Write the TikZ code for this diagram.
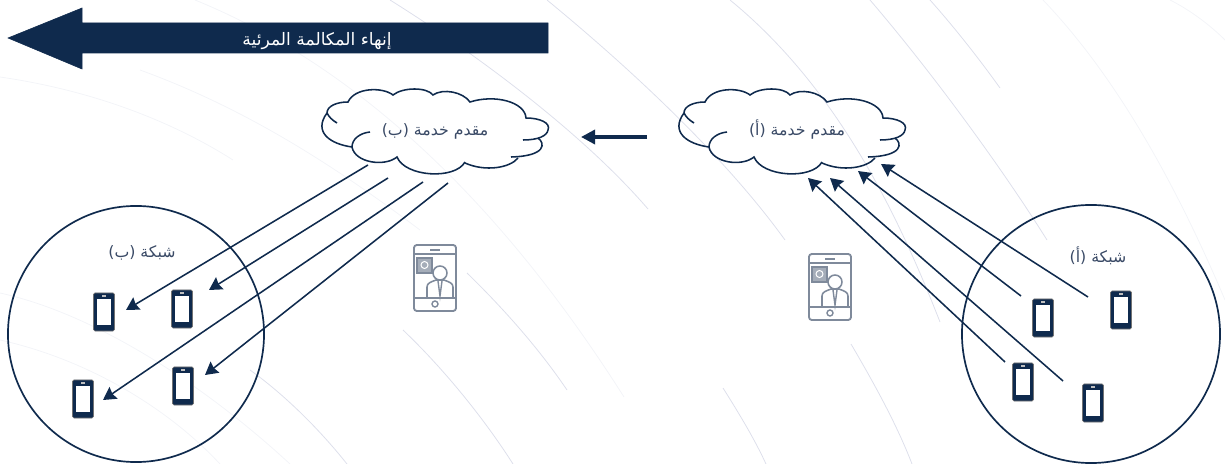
\documentclass[tikz,border=0pt]{standalone}
\usepackage{fontspec}
\usetikzlibrary{arrows.meta}
\newfontfamily\arabicfont[Script=Arabic]{DejaVu Sans}
\TeXXeTstate=1
\definecolor{navy}{HTML}{0F2A4D}
\definecolor{slate}{HTML}{3A4A66}
\definecolor{icongray}{HTML}{7F8A9B}
\definecolor{arcblue}{HTML}{DDDFEB}
\definecolor{arcpale}{HTML}{F3F4F8}
\tikzset{
	phonebody/.style={draw=black!55,fill=navy,rounded corners=1pt,minimum width=.525cm,minimum height=.95cm,inner sep=0pt},
	phonescreen/.style={fill=white,minimum width=.37cm,minimum height=.67cm,inner sep=0pt},
	phonespeaker/.style={fill=black!25,minimum width=.11cm,minimum height=.04cm,inner sep=0pt},
	conn/.style={navy,line width=1.1pt,-{Stealth[length=9pt,width=10pt,inset=1pt]}},
	lbl/.style={text=slate,font=\arabicfont\fontsize{11.2}{13}\selectfont,inner sep=0pt},
	arc/.style={arcblue,line width=.55pt},
	palearc/.style={arcpale,line width=.55pt},
	cloudpic/.pic={
		\draw[navy,line width=1.1pt] (-98,-7) .. controls (-103,-10) and (-106,-13) .. (-108,-17)
			.. controls (-108,-24) and (-98,-28) .. (-87,-28)
			.. controls (-80,-43) and (-52,-43) .. (-42,-35) .. controls (-32,-43) and (-8,-43) .. (-2,-35)
			.. controls (8,-42) and (28,-38) .. (35,-28) .. controls (60,-36) and (90,-28) .. (91,-12)
			.. controls (105,-12) and (116,-7) .. (113,0) .. controls (112,6) and (103,10) .. (88,10);
		\draw[navy,line width=1.1pt] (103,8) .. controls (110,13) and (112,26) .. (76,27);
		\draw[navy,line width=1.1pt] (83,28) .. controls (75,38) and (50,42) .. (30,33);
		\draw[navy,line width=1.1pt] (30,32) .. controls (20,50) and (-30,47) .. (-38,27)
			.. controls (-50,37) and (-80,33) .. (-83,17)
			.. controls (-105,14) and (-122,2) .. (-108,-17);
		\draw[navy,line width=1.1pt] (-83,17) .. controls (-83,9) and (-75,3) .. (-65,2);
	},
	videoicon/.pic={
		\draw[icongray,line width=1.3pt,rounded corners=2pt] (-21,-33) rectangle (21,33);
		\draw[icongray,line width=1pt] (-21,-24) -- (21,-24) (-21,20) -- (21,20);
		\draw[icongray,line width=1pt] (-5,-28) -- (5,-28);
		\draw[icongray,line width=1pt] (0,26) circle (3);
		\draw[icongray,line width=1pt,fill=icongray!70] (-18,-20) rectangle (-3,-5);
		\draw[white,line width=.7pt] (-10.5,-13) circle (3.5);
		\draw[icongray,line width=1.1pt,fill=white] (5,-5) circle (7);
		\draw[icongray,line width=1.1pt] (-8,20) -- (-8,9) .. controls (-8,5) and (-4,4) .. (1,2) -- (9,2) .. controls (14,4) and (18,5) .. (18,9) -- (18,20);
		\draw[icongray,line width=1pt] (3,3) -- (5,18) -- (7,3);
	}
}
\begin{document}
\begin{tikzpicture}[x=.025cm,y=-.025cm]
	\useasboundingbox (0,0) rectangle (1225,464);
	\draw[arc] (390,0) .. controls (470,50) and (580,130) .. (648,209);
	\draw[arc] (547,0) .. controls (620,60) and (720,150) .. (785,240);
	\draw[arc] (467,273) .. controls (505,310) and (540,350) .. (567,390);
	\draw[arc] (403,330) .. controls (445,370) and (485,420) .. (513,464);
	\draw[arc] (250,370) .. controls (285,395) and (320,430) .. (347,464);
	\draw[arc] (723,388) .. controls (740,415) and (755,440) .. (766,464);
	\draw[arc] (851,344) .. controls (875,385) and (897,425) .. (912,464);
	\draw[arc] (730,0) .. controls (840,90) and (900,220) .. (940,322);
	\draw[arc] (870,0) .. controls (930,70) and (1000,165) .. (1047,240);
	\draw[arc] (930,0) .. controls (955,28) and (980,60) .. (1000,88);
	\draw[palearc] (1043,0) .. controls (1110,70) and (1170,170) .. (1225,300);
	\draw[palearc] (1170,0) .. controls (1190,10) and (1210,25) .. (1225,40);
	\draw[palearc] (195,0) .. controls (330,55) and (480,170) .. (624,397);
	\draw[palearc] (0,293) .. controls (100,315) and (210,390) .. (290,464);
	\draw[palearc] (0,340) .. controls (90,360) and (170,410) .. (220,464);
	\draw[palearc] (140,70) .. controls (250,110) and (340,170) .. (420,230);
	\draw[palearc] (0,77) .. controls (90,90) and (170,120) .. (233,160);
	\draw[navy,fill=navy] (8,38) -- (82,8) -- (82,23) -- (548,23) -- (548,53) -- (82,53) -- (82,69) -- cycle;
	\node[text=white,font=\arabicfont\fontsize{12.2}{14}\selectfont,inner sep=0pt] (endcall) at (317,41) {\beginR إنهاء المكالمة المرئية\endR};
	\pic at (435,130) {cloudpic};
	\pic at (792,130) {cloudpic};
	\node[lbl] (provb) at (435,131) {\beginR مقدم خدمة (ب)\endR};
	\node[lbl] (prova) at (797,130) {\beginR مقدم خدمة (أ)\endR};
	\node[draw=navy,line width=1.2pt,circle,minimum size=6.4cm,inner sep=0pt] (netb) at (136,334) {};
	\node[draw=navy,line width=1.2pt,circle,minimum size=6.45cm,inner sep=0pt] (neta) at (1091,334) {};
	\node[lbl] (labelb) at (142,253) {\beginR شبكة (ب)\endR};
	\node[lbl] (labela) at (1098,256) {\beginR شبكة (أ)\endR};
	\foreach\n/\x/\y in {pa/1043/318,pb/1121/310,pc/1023/382,pd/1093/403,pe/104/312,pf/182/309,pg/83/399,ph/183/386} {
		\node[phonebody] (\n) at (\x,\y) {};
		\node[phonescreen] (\n s) at (\x,\y) {};
		\node[phonespeaker] (\n k) at (\x,\y-16) {};
	}
	\pic at (435,278) {videoicon};
	\pic at (830,287) {videoicon};
	\foreach\n/\x/\y in {ca/1088/297,cb/1021/296,cc/1063/381,cd/1005/362,da/881/164,db/858/171,dc/830/178,dd/808/178,ea/368/165,eb/388/178,ec/423/182,ed/448/183,fa/126/310,fb/209/290,fc/103/400,fd/205/375,ga/647/137,gb/581/137} {
		\coordinate (\n) at (\x,\y);
	}
	\draw[conn] (ca) -- (da);
	\draw[conn] (cb) -- (db);
	\draw[conn] (cc) -- (dc);
	\draw[conn] (cd) -- (dd);
	\draw[conn] (ea) -- (fa);
	\draw[conn] (eb) -- (fb);
	\draw[conn] (ec) -- (fc);
	\draw[conn] (ed) -- (fd);
	\draw[navy,line width=2.4pt,-{Stealth[length=10pt,width=10pt,inset=0pt]}] (ga) -- (gb);
\end{tikzpicture}
\end{document}
